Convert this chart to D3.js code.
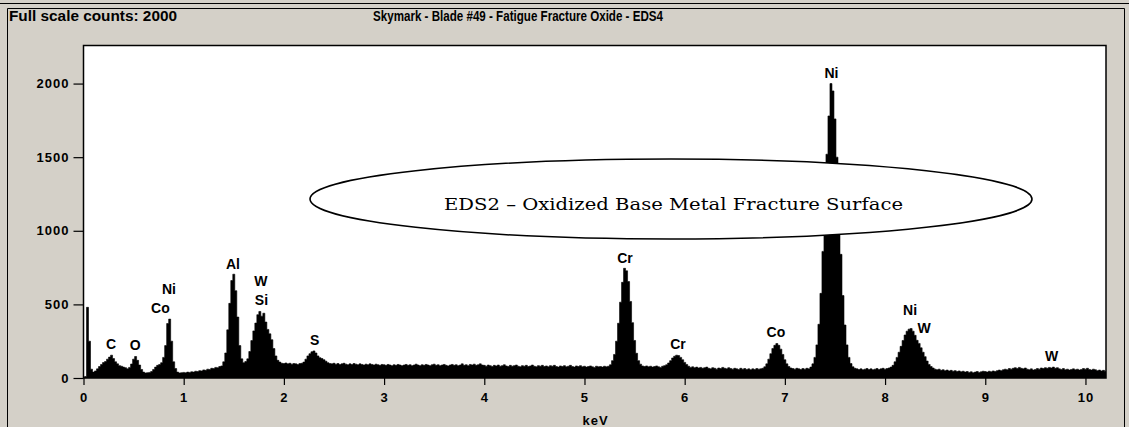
<!DOCTYPE html>
<html>
<head>
<meta charset="utf-8">
<script src="https://cdn.jsdelivr.net/npm/d3@7"></script>
<style>
  html, body { margin: 0; padding: 0; background: #d4d0c8; }
  svg { display: block; }
</style>
</head>
<body>
<svg id="chart" width="1129" height="427"></svg>
<script>
// EDS spectrum: counts per 0.02 keV channel, starting at 0 keV
const energyStep = 0.02;
const counts = [
  // 0.00 - 0.98 keV
  0, 10, 480, 250, 60, 40, 48, 62, 78, 92,
  105, 112, 128, 142, 155, 132, 110, 96, 84, 80,
  74, 70, 62, 72, 95, 128, 146, 120, 88, 58,
  40, 34, 36, 38, 44, 58, 74, 86, 92, 104,
  140, 220, 370, 400, 250, 110, 64, 40, 34, 36,
  // 1.00 - 1.98 keV
  38, 35, 40, 38, 42, 40, 46, 44, 50, 48,
  55, 52, 60, 58, 66, 64, 72, 70, 78, 82,
  110, 170, 327, 507, 662, 705, 593, 414, 220, 130,
  104, 112, 130, 180, 254, 320, 373, 430, 452, 420,
  440, 380, 330, 300, 260, 200, 150, 120, 108, 100,
  // 2.00 - 2.98 keV
  98, 102, 96, 100, 94, 98, 96, 92, 98, 100,
  108, 128, 150, 165, 178, 184, 170, 150, 138, 132,
  124, 114, 104, 98, 96, 100, 94, 98, 92, 96,
  100, 94, 90, 96, 92, 98, 94, 90, 96, 92,
  88, 94, 90, 96, 92, 88, 94, 90, 86, 92,
  // 3.00 - 3.98 keV
  90, 86, 92, 88, 84, 90, 86, 92, 88, 84,
  88, 92, 86, 90, 84, 88, 94, 88, 84, 90,
  86, 92, 88, 84, 90, 94, 86, 90, 84, 88,
  92, 86, 82, 88, 92, 86, 90, 84, 88, 96,
  86, 90, 84, 92, 88, 94, 86, 90, 96, 88,
  // 4.00 - 4.98 keV
  86, 80, 88, 84, 78, 86, 82, 88, 80, 84,
  90, 82, 78, 86, 80, 84, 88, 80, 76, 84,
  80, 86, 78, 82, 88, 80, 76, 84, 80, 86,
  78, 82, 76, 84, 80, 86, 78, 74, 82, 78,
  84, 76, 80, 86, 78, 74, 82, 78, 84, 76,
  // 5.00 - 5.98 keV
  80, 74, 78, 82, 76, 72, 80, 76, 78, 74,
  80, 76, 80, 90, 118, 160, 250, 372, 515, 650,
  745, 728, 655, 520, 376, 255, 168, 118, 94, 82,
  78, 82, 76, 80, 74, 78, 82, 76, 72, 80,
  84, 90, 102, 118, 136, 148, 155, 152, 140, 124,
  // 6.00 - 6.98 keV
  106, 92, 80, 72, 76, 70, 74, 68, 72, 66,
  70, 74, 66, 62, 70, 66, 60, 68, 64, 72,
  66, 62, 70, 64, 60, 66, 62, 58, 66, 60,
  64, 58, 62, 56, 62, 58, 64, 60, 62, 66,
  76, 96, 128, 165, 200, 222, 234, 222, 196, 160,
  // 7.00 - 7.98 keV
  124, 96, 78, 68, 64, 60, 66, 62, 58, 64,
  60, 66, 62, 74, 96, 140, 225, 365, 575, 860,
  1190, 1520, 1780, 2000, 1950, 1760, 1500, 1170, 840, 560,
  360, 225, 140, 98, 76, 66, 62, 58, 62, 56,
  60, 64, 58, 62, 56, 60, 64, 58, 62, 66,
  // 8.00 - 8.98 keV
  60, 64, 68, 74, 86, 110, 140, 175, 215, 255,
  292, 318, 332, 336, 318, 290, 256, 235, 205, 175,
  145, 115, 92, 78, 68, 60, 56, 60, 52, 56,
  50, 54, 48, 52, 46, 50, 44, 48, 42, 46,
  40, 44, 38, 42, 36, 40, 44, 38, 42, 46,
  // 9.00 - 9.98 keV
  44, 40, 46, 42, 48, 44, 50, 54, 50, 56,
  60, 56, 64, 60, 66, 70, 64, 72, 66, 62,
  68, 60, 56, 62, 54, 58, 64, 60, 68, 64,
  70, 66, 72, 68, 74, 66, 70, 62, 58, 64,
  56, 60, 54, 58, 62, 56, 60, 54, 58, 64,
  // 10.00 - 10.22 keV
  60, 66, 58, 54, 60, 56, 50, 54, 48, 52, 46, 50
];

const xTicks = [0, 1, 2, 3, 4, 5, 6, 7, 8, 9, 10];
const yTicks = [0, 500, 1000, 1500, 2000];

// Element labels, anchored in (keV, counts) at the label baseline
const labelText   = ["C", "O", "Co", "Ni", "Al", "Si", "W", "S", "Cr", "Cr", "Co", "Ni", "Ni", "W", "W"];
const labelEnergy = [0.274, 0.517, 0.768, 0.853, 1.492, 1.776, 1.771, 2.306, 5.404, 5.933, 6.911, 7.465, 8.249, 8.389, 9.661];
const labelCounts = [197, 190, 442, 571, 740, 496, 625, 224, 781, 197, 279, 2035, 428, 306, 115];

const headerLeft = "Full scale counts: 2000";
const headerTitle = "Skymark - Blade #49 - Fatigue Fracture Oxide - EDS4";
const xAxisTitle = "keV";
const calloutText = "EDS2 \u2013 Oxidized Base Metal Fracture Surface";

const SANS = '"Liberation Sans", Arial, sans-serif';
const NARROW = '"Liberation Sans Narrow", "Liberation Sans", Arial, sans-serif';

const svg = d3.select("#chart");
const W = 1129, H = 427;
const plotBox = { left: 83.5, right: 1106, top: 45, bottom: 378 };

const x = d3.scaleLinear().domain([0, 10.205]).range([plotBox.left, plotBox.right]);
const y = d3.scaleLinear().domain([0, 2262]).range([plotBox.bottom, plotBox.top]);

// window background and frame
svg.append("rect").attr("width", W).attr("height", H).attr("fill", "#d4d0c8");
svg.append("line").attr("x1", 0).attr("x2", W).attr("y1", 3.5).attr("y2", 3.5)
  .attr("stroke", "#000").attr("stroke-width", 1);
svg.append("path")
  .attr("d", `M7.5,${H} V8.5 H1124.5 V${H}`)
  .attr("fill", "none").attr("stroke", "#000").attr("stroke-width", 1);

// header texts
svg.append("text").attr("x", 9).attr("y", 20.5)
  .style("font-family", NARROW)
  .attr("font-size", 14.5).attr("font-weight", "bold")
  .attr("textLength", 168).attr("lengthAdjust", "spacingAndGlyphs")
  .text(headerLeft);
svg.append("text").attr("x", 373).attr("y", 20.5)
  .style("font-family", NARROW)
  .attr("font-size", 14.5).attr("font-weight", "bold")
  .attr("textLength", 290).attr("lengthAdjust", "spacingAndGlyphs")
  .text(headerTitle);

// plot area
svg.append("rect")
  .attr("x", plotBox.left).attr("y", plotBox.top)
  .attr("width", plotBox.right - plotBox.left).attr("height", plotBox.bottom - plotBox.top)
  .attr("fill", "#fff");

svg.append("defs").append("clipPath").attr("id", "plotClip")
  .append("rect")
  .attr("x", plotBox.left).attr("y", plotBox.top)
  .attr("width", plotBox.right - plotBox.left).attr("height", plotBox.bottom - plotBox.top);

const spectrum = counts.map((c, i) => ({ keV: i * energyStep, c }));

const area = d3.area()
  .x(d => x(d.keV))
  .y0(y(0))
  .y1(d => y(d.c))
  .curve(d3.curveStep);

svg.append("path")
  .datum(spectrum)
  .attr("clip-path", "url(#plotClip)")
  .attr("d", area)
  .attr("fill", "#000")
  .attr("stroke", "#000")
  .attr("stroke-width", 0.6);

// plot frame
svg.append("rect")
  .attr("x", plotBox.left).attr("y", plotBox.top + 0.5)
  .attr("width", plotBox.right - plotBox.left).attr("height", plotBox.bottom - plotBox.top - 0.5)
  .attr("fill", "none").attr("stroke", "#000").attr("stroke-width", 1.5);

// axes
const yAxis = svg.append("g")
  .attr("transform", `translate(${plotBox.left},0)`)
  .call(d3.axisLeft(y).tickValues(yTicks).tickFormat(d3.format("d")).tickSize(10).tickPadding(4));
const xAxis = svg.append("g")
  .attr("transform", `translate(0,${plotBox.bottom})`)
  .call(d3.axisBottom(x).tickValues(xTicks).tickFormat(d3.format("d")).tickSize(7).tickPadding(8));

[yAxis, xAxis].forEach(g => {
  g.select(".domain").remove();
  g.selectAll(".tick line").attr("stroke", "#000").attr("stroke-width", 1.2);
  g.selectAll(".tick text")
    .attr("fill", "#000")
    .style("font-family", SANS)
    .attr("font-size", 13).attr("font-weight", "bold").attr("letter-spacing", 1);
});

svg.append("text")
  .attr("x", x(5.11)).attr("y", 425)
  .attr("text-anchor", "middle")
  .style("font-family", SANS)
  .attr("font-size", 13).attr("font-weight", "bold").attr("letter-spacing", 1)
  .text(xAxisTitle);

// element labels
svg.append("g").selectAll("text")
  .data(labelText.map((t, i) => ({ t, e: labelEnergy[i], c: labelCounts[i] })))
  .join("text")
  .attr("x", d => x(d.e))
  .attr("y", d => y(d.c))
  .attr("text-anchor", "middle")
  .style("font-family", SANS)
  .attr("font-size", 14).attr("font-weight", "bold")
  .text(d => d.t);

// callout ellipse over the spectrum
svg.append("ellipse")
  .attr("cx", 671).attr("cy", 199).attr("rx", 361).attr("ry", 40)
  .attr("fill", "#fff").attr("stroke", "#000").attr("stroke-width", 1.6);
svg.append("text")
  .attr("x", 444).attr("y", 210)
  .style("font-family", '"DejaVu Serif", "Liberation Serif", serif')
  .attr("font-size", 16.5)
  .attr("textLength", 459).attr("lengthAdjust", "spacingAndGlyphs")
  .text(calloutText);
</script>
</body>
</html>
